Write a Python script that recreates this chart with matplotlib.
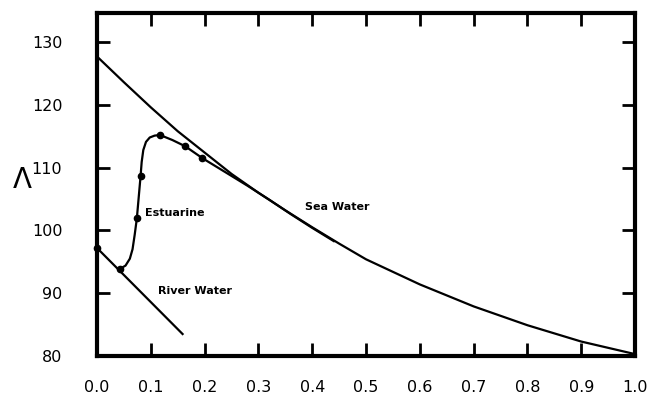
import numpy as np
import matplotlib
matplotlib.use("Agg")
import matplotlib.pyplot as plt

# sea water conductance curve
sea_x = [0.0, 0.05, 0.1, 0.15, 0.2, 0.25, 0.3, 0.35, 0.4, 0.45, 0.5, 0.6, 0.7, 0.8, 0.9, 1.0]
sea_y = [127.7, 123.6, 119.6, 115.8, 112.4, 109.0, 106.0, 103.2, 100.5, 97.9, 95.4, 91.4, 87.9, 84.9, 82.3, 80.3]

# river water dilution line
river_x = [0.0, 0.159]
river_y = [97.2, 83.5]

# estuarine curve (traced) and measured points
est_x = [0.043, 0.053, 0.061, 0.066, 0.070, 0.074, 0.081, 0.083, 0.086, 0.091, 0.098, 0.107, 0.117,
         0.140, 0.164, 0.196, 0.24, 0.28, 0.32, 0.36, 0.40, 0.44]
est_y = [93.9, 94.4, 95.5, 97.0, 99.3, 101.9, 108.7, 110.9, 112.8, 114.1, 114.8, 115.1, 115.2,
         114.4, 113.4, 111.5, 109.2, 107.1, 104.9, 102.6, 100.4, 98.3]
pts_x = [0.0, 0.043, 0.074, 0.081, 0.117, 0.164, 0.196]
pts_y = [97.2, 93.9, 101.9, 108.7, 115.2, 113.4, 111.5]

xticks = np.round(np.arange(0, 1.01, 0.1), 1)
xlabels = ["0.0", "0.1", "0.2", "0.3", "0.4", "0.5", "0.6", "0.7", "0.8", "0.9", "1.0"]
yticks = [80, 90, 100, 110, 120, 130]

fig = plt.figure(figsize=(6.49, 4.05), dpi=100)
ax = fig.add_axes([0.1495, 0.121, 0.829, 0.848])

ax.plot(sea_x, sea_y, color="black", lw=1.6)
ax.plot(river_x, river_y, color="black", lw=1.6)
ax.plot(est_x, est_y, color="black", lw=1.6)
ax.plot(pts_x, pts_y, "o", color="black", ms=4.5, clip_on=False)

ax.set_xlim(0, 1.0)
ax.set_ylim(80, 134.7)
ax.set_xticks(xticks)
ax.set_xticklabels(xlabels)
ax.set_yticks(yticks)

for s in ax.spines.values():
    s.set_linewidth(3)
ax.tick_params(direction="in", length=9.5, width=2, top=True, right=True,
               labelsize=11.5, color="black")
ax.tick_params(axis="x", pad=17)
ax.tick_params(axis="y", pad=25)

lbl = dict(fontsize=8, fontweight="bold", color="black", va="center")
ax.text(0.089, 102.8, "Estuarine", **lbl)
ax.text(0.387, 103.7, "Sea Water", **lbl)
ax.text(0.113, 90.4, "River Water", **lbl)

fig.text(0.034, 0.556, "\u039b", fontsize=20, ha="center", va="center")

fig.savefig("out.png", dpi=100)
